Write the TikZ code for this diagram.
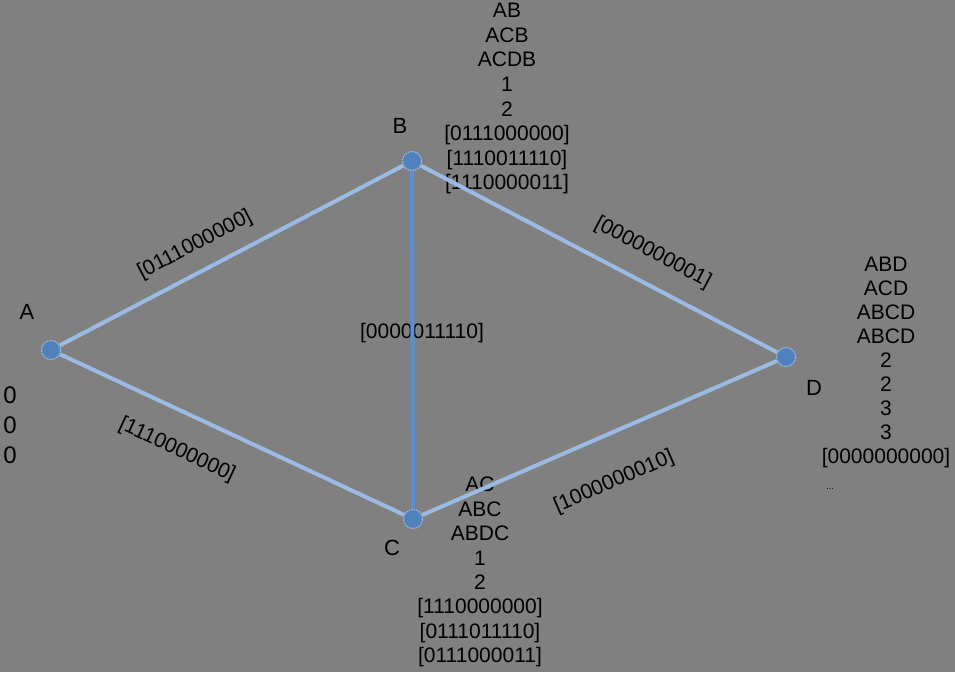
\documentclass[tikz,border=0pt]{standalone}
\usepackage{fontspec}
\setmainfont{Liberation Sans}
\definecolor{bggray}{RGB}{128,128,128}
\definecolor{edgeblue}{RGB}{155,187,227}
\definecolor{midblue}{RGB}{88,144,214}
\definecolor{dotblue}{RGB}{79,129,189}
\begin{document}
\begin{tikzpicture}[x=1pt,y=-1pt]
		\tikzset{vertex/.style = {circle, fill=dotblue, draw=edgeblue, line width=1.2pt, dash pattern=on 1.5pt off 1pt, minimum size=19pt, inner sep=0pt}}
		\tikzset{edge/.style = {edgeblue, line width=4pt}}
		\tikzset{vlabel/.style = {font=\fontsize{22}{26}\selectfont}}
		\tikzset{info/.style = {align=center, anchor=north, inner sep=0pt, font=\fontsize{21}{24.6}\selectfont}}
		\tikzset{code/.style = {inner sep=0pt, font=\fontsize{21}{24}\selectfont}}
		
		\fill[bggray] (0,0) rectangle (955,672);
		\useasboundingbox (0,0) rectangle (955,672);
		
		% texts at the vertices
		\node[vlabel] (nA) at (  27,  312) {A};
		\node[vlabel] (nB) at ( 400,  126) {B};
		\node[vlabel] (nC) at ( 392,  548) {C};
		\node[vlabel] (nD) at ( 814,  388) {D};
		
		\node[info, font=\fontsize{24}{30}\selectfont] (iA) at (  10,  387) {0\\0\\0};
		\node[info] (iB) at ( 507,    3) {AB\\ACB\\ACDB\\1\\2\\{[0111000000]}\\{[1110011110]}\\{[1110000011]}};
		\node[info, font=\fontsize{21}{24.4}\selectfont] (iC) at ( 480,  477) {AC\\ABC\\ABDC\\1\\2\\{[1110000000]}\\{[0111011110]}\\{[0111000011]}};
		\node[info, font=\fontsize{21}{24}\selectfont] (iD) at ( 886,  257) {ABD\\ACD\\ABCD\\ABCD\\2\\2\\3\\3\\{[0000000000]}};
		\node[inner sep=0pt, font=\fontsize{9}{10}\selectfont] (dots) at ( 830,  489) {...};
		
		% texts on the edges
		\node[code, rotate= 27.6] (eAB) at ( 195,  245) {[0111000000]};
		\node[code, rotate=-28  ] (eBD) at ( 653,  253) {[0000000001]};
		\node[code, rotate=-25  ] (eAC) at ( 177,  450) {[1110000000]};
		\node[code, rotate= 23.5] (eCD) at ( 614,  482) {[1000000010]};
		\node[code]               (eBC) at ( 422,  333) {[0000011110]};
		
		\node[vertex] (A) at (  51,  350) {};
		\node[vertex] (B) at ( 412,  161) {};
		\node[vertex] (C) at ( 413,  519) {};
		\node[vertex] (D) at ( 786,  357) {};
		
		\draw[edge] (A) to (B);
		\draw[edge] (A) to (C);
		\draw[edge] (B) to (D);
		\draw[edge] (C) to (D);
		
		\tikzset{edge/.style = {midblue, line width=4pt}}
		\draw[edge] (B) to (C);
		\end{tikzpicture}
\end{document}
